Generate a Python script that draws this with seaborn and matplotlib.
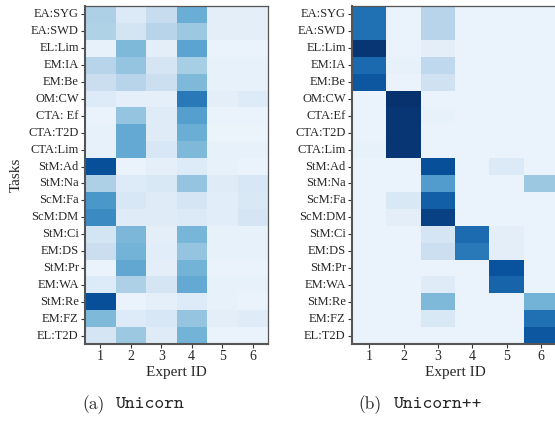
import numpy as np
import pandas as pd
import matplotlib
matplotlib.use("Agg")
import matplotlib.pyplot as plt
import seaborn as sns

tasks_a = ["EA:SYG", "EA:SWD", "EL:Lim", "EM:IA", "EM:Be", "OM:CW", "CTA: Ef", "CTA:T2D",
           "CTA:Lim", "StM:Ad", "StM:Na", "ScM:Fa", "ScM:DM", "StM:Ci", "EM:DS", "StM:Pr",
           "EM:WA", "StM:Re", "EM:FZ", "EL:T2D"]
tasks_b = ["EA:SYG", "EA:SWD", "EL:Lim", "EM:IA", "EM:Be", "OM:CW", "CTA:Ef", "CTA:T2D",
           "CTA:Lim", "StM:Ad", "StM:Na", "ScM:Fa", "ScM:DM", "StM:Ci", "EM:DS", "StM:Pr",
           "EM:WA", "StM:Re", "EM:FZ", "EL:T2D"]
experts = ["1", "2", "3", "4", "5", "6"]

unicorn = [
    [0.33, 0.14, 0.24, 0.50, 0.10, 0.10],
    [0.32, 0.18, 0.30, 0.38, 0.10, 0.10],
    [0.08, 0.45, 0.10, 0.55, 0.07, 0.07],
    [0.30, 0.40, 0.17, 0.35, 0.08, 0.08],
    [0.23, 0.30, 0.22, 0.45, 0.08, 0.08],
    [0.13, 0.09, 0.09, 0.72, 0.10, 0.13],
    [0.07, 0.40, 0.12, 0.57, 0.07, 0.07],
    [0.08, 0.52, 0.12, 0.50, 0.06, 0.06],
    [0.08, 0.52, 0.16, 0.45, 0.08, 0.08],
    [0.88, 0.07, 0.09, 0.13, 0.08, 0.07],
    [0.33, 0.13, 0.15, 0.40, 0.12, 0.16],
    [0.60, 0.16, 0.12, 0.17, 0.11, 0.15],
    [0.65, 0.12, 0.12, 0.14, 0.11, 0.17],
    [0.18, 0.46, 0.10, 0.47, 0.08, 0.08],
    [0.23, 0.48, 0.11, 0.40, 0.08, 0.08],
    [0.07, 0.53, 0.10, 0.48, 0.07, 0.07],
    [0.13, 0.33, 0.17, 0.52, 0.08, 0.08],
    [0.88, 0.07, 0.09, 0.13, 0.08, 0.07],
    [0.45, 0.13, 0.16, 0.40, 0.10, 0.12],
    [0.17, 0.38, 0.12, 0.48, 0.07, 0.07],
]

unicorn_pp = [
    [0.75, 0.07, 0.30, 0.07, 0.07, 0.07],
    [0.75, 0.07, 0.30, 0.07, 0.07, 0.07],
    [0.98, 0.07, 0.10, 0.07, 0.07, 0.07],
    [0.78, 0.08, 0.27, 0.07, 0.07, 0.07],
    [0.85, 0.07, 0.20, 0.07, 0.07, 0.07],
    [0.07, 0.99, 0.07, 0.07, 0.07, 0.07],
    [0.07, 0.98, 0.08, 0.07, 0.07, 0.07],
    [0.07, 0.98, 0.07, 0.07, 0.07, 0.07],
    [0.08, 0.98, 0.07, 0.07, 0.07, 0.07],
    [0.07, 0.07, 0.88, 0.07, 0.14, 0.07],
    [0.07, 0.07, 0.58, 0.07, 0.07, 0.38],
    [0.07, 0.15, 0.82, 0.07, 0.07, 0.07],
    [0.07, 0.10, 0.93, 0.07, 0.07, 0.07],
    [0.07, 0.07, 0.17, 0.77, 0.10, 0.07],
    [0.07, 0.07, 0.22, 0.72, 0.10, 0.07],
    [0.07, 0.07, 0.07, 0.07, 0.87, 0.07],
    [0.07, 0.07, 0.12, 0.07, 0.80, 0.07],
    [0.07, 0.07, 0.45, 0.07, 0.07, 0.48],
    [0.07, 0.07, 0.15, 0.07, 0.07, 0.75],
    [0.07, 0.07, 0.07, 0.07, 0.07, 0.85],
]

sns.set_theme(style="ticks")
plt.rcParams["font.family"] = ["Liberation Serif", "DejaVu Serif"]

fig = plt.figure(figsize=(5.55, 4.30), dpi=100)
ax1 = fig.add_axes([85/555, 1-344/430, 183/555, 338/430])
ax2 = fig.add_axes([352/555, 1-344/430, 206/555, 338/430])

for ax, data, labels, ylabel in [(ax1, unicorn, tasks_a, "Tasks"), (ax2, unicorn_pp, tasks_b, "")]:
    df = pd.DataFrame(data, index=labels, columns=experts)
    sns.heatmap(df, ax=ax, cmap="Blues", vmin=0, vmax=1, cbar=False)
    ax.set_xlabel("Expert ID", fontsize=11, labelpad=2)
    ax.set_ylabel(ylabel, fontsize=11, labelpad=4)
    ax.tick_params(axis="both", labelsize=9, length=3, width=0.8, color="#333333", pad=1.5)
    ax.tick_params(axis="x", labelsize=10)
    ax.tick_params(axis="y", rotation=0)
    ax.tick_params(axis="x", rotation=0)
    for side, sp in ax.spines.items():
        sp.set_visible(True)
        sp.set_color("#555555")
        sp.set_linewidth(1.5 if side in ("left", "bottom") else 0.9)

cy = 1 - 405/430
fig.text(82/555, cy, "(a)", fontsize=12.5, family="cmr10", va="center", ha="left")
fig.text(116/555, cy, "Unicorn", fontsize=13.5, family="cmtt10", va="center", ha="left")
fig.text(358/555, cy, "(b)", fontsize=12.5, family="cmr10", va="center", ha="left")
fig.text(394/555, cy, "Unicorn++", fontsize=13.5, family="cmtt10", va="center", ha="left")

fig.savefig("out.png", dpi=100)
